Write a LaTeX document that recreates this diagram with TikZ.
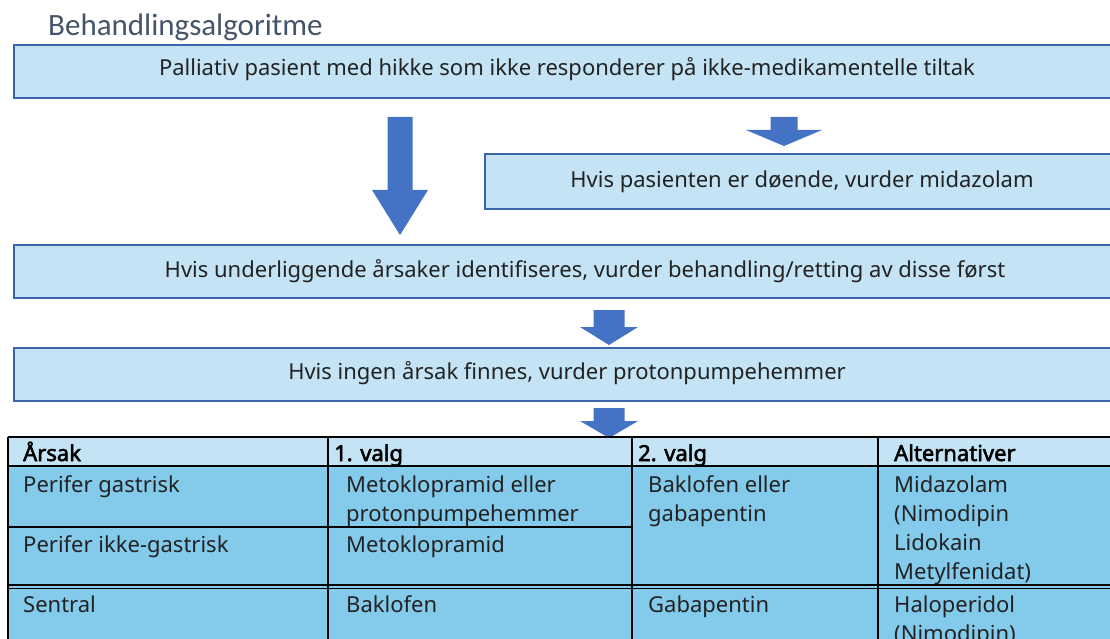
\documentclass[tikz,border=0pt]{standalone}
\usepackage{fontspec}
\setmainfont{Noto Sans}
\newfontfamily\headfont{Noto Sans}[FakeBold=2.5]
\newfontfamily\titlefont{Carlito}
\usetikzlibrary{calc}
\definecolor{boxfill}{HTML}{C4E4F5}
\definecolor{boxline}{HTML}{3C64A8}
\definecolor{arrowblue}{HTML}{4472C4}
\definecolor{cellfill}{HTML}{84CAEB}
\definecolor{headfill}{HTML}{C4E4F5}
\definecolor{titlecol}{HTML}{44546A}
\definecolor{txt}{HTML}{222222}
\newcommand\blockarrow[6]{% cx, top, shaft half, head half, head start, tip
  \fill[arrowblue] (#1-#3,#2) -- (#1+#3,#2) -- (#1+#3,#5) -- (#1+#4,#5) -- (#1,#6) -- (#1-#4,#5) -- (#1-#3,#5) -- cycle;}
\newcommand\cellines[1]{\begin{tabular}[t]{@{}l@{}}#1\end{tabular}}
\tikzset{
  flowbox/.style={draw=boxline, line width=1.6pt, fill=boxfill},
  boxtext/.style={anchor=base, text=txt, inner sep=0pt, font=\fontsize{22}{29}\selectfont},
  celltext/.style={anchor=base west, text=txt, inner sep=0pt, font=\fontsize{22}{29}\selectfont},
  headtext/.style={anchor=base west, text=black, inner sep=0pt, font=\headfont\fontsize{22}{29}\selectfont},
  grid/.style={draw=black, line width=1.6pt}
}
\begin{document}
\begin{tikzpicture}[x=1pt,y=-1pt]
\useasboundingbox (0,0) rectangle (1110,639);
\clip (0,0) rectangle (1110,639);
% title
\node[anchor=base west, inner sep=0pt, text=titlecol, font=\titlefont\fontsize{31}{34}\selectfont] (title) at (48,36) {Behandlingsalgoritme};
% boxes
\draw[flowbox] (14,45) rectangle (1125,98);
\node[boxtext] (b1) at (567,76) {Palliativ pasient med hikke som ikke responderer på ikke-medikamentelle tiltak};
\draw[flowbox] (485,154) rectangle (1125,209);
\node[boxtext] (b2) at (802,187) {Hvis pasienten er døende, vurder midazolam};
\draw[flowbox] (14,245) rectangle (1125,298);
\node[boxtext] (b3) at (585,277) {Hvis underliggende årsaker identifiseres, vurder behandling/retting av disse først};
\draw[flowbox] (14,348) rectangle (1125,401);
\node[boxtext] (b4) at (567,379) {Hvis ingen årsak finnes, vurder protonpumpehemmer};
% arrows
\blockarrow{400}{117}{12.5}{28}{190}{235}
\blockarrow{784}{117}{13.5}{38}{130}{146}
\blockarrow{609}{310}{15.5}{29}{327}{345}
\blockarrow{609}{408}{15.5}{29}{421}{438}
% table fills
\fill[headfill] (8,437) rectangle (1125,466);
\fill[cellfill] (8,466) rectangle (1125,645);
% grid
\draw[grid] (8,437) -- (1125,437);
\draw[grid] (8,466) -- (1125,466);
\draw[grid] (8,527) -- (632,527);
\draw[grid, line width=1.2pt] (8,585) -- (1125,585);
\draw[grid, line width=1.2pt] (8,588.5) -- (1125,588.5);
\draw[grid] (8,437) -- (8,645);
\draw[grid] (328,437) -- (328,645);
\draw[grid] (632,437) -- (632,645);
\draw[grid] (878,437) -- (878,645);
% header
\node[headtext] (h1) at (23,461) {Årsak};
\node[headtext] (h2) at (334,461) {1. valg};
\node[headtext] (h3) at (638,461) {2. valg};
\node[headtext] (h4) at (894,461) {Alternativer};
% rows
\node[celltext] (r1c1) at (23,492) {Perifer gastrisk};
\node[celltext] (r1c2) at (346,492) {\cellines{Metoklopramid eller\\protonpumpehemmer}};
\node[celltext] (r1c3) at (648,492) {\cellines{Baklofen eller\\gabapentin}};
\node[celltext] (r1c4) at (894,492) {\cellines{Midazolam\\(Nimodipin\\Lidokain\\Metylfenidat)}};
\node[celltext] (r2c1) at (23,552) {Perifer ikke-gastrisk};
\node[celltext] (r2c2) at (346,552) {Metoklopramid};
\node[celltext] (r3c1) at (23,612) {Sentral};
\node[celltext] (r3c2) at (346,612) {Baklofen};
\node[celltext] (r3c3) at (648,612) {Gabapentin};
\node[celltext] (r3c4) at (894,612) {\cellines{Haloperidol\\(Nimodipin)}};
\end{tikzpicture}
\end{document}
